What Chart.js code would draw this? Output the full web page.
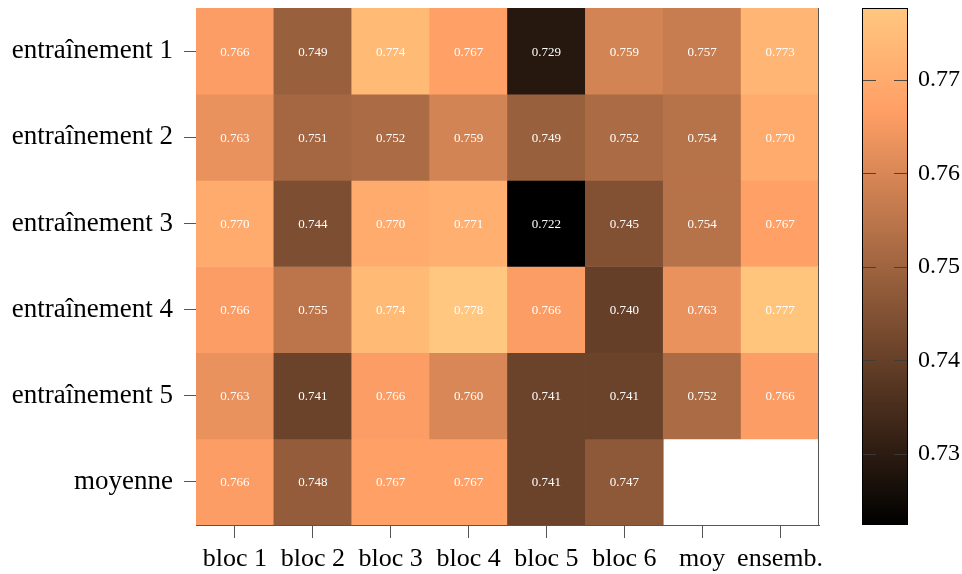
<!DOCTYPE html>
<html>
<head>
<meta charset="utf-8">
<script src="https://cdn.jsdelivr.net/npm/chart.js@4.4.1/dist/chart.umd.min.js"></script>
<style>
  html, body { margin: 0; padding: 0; background: #ffffff; }
  #wrap { position: relative; width: 962px; height: 574px; }
  #main { position: absolute; left: 0; top: 0; }
  #cbar { position: absolute; left: 840px; top: 0; }
</style>
</head>
<body>
<div id="wrap">
  <canvas id="main" width="840" height="574"></canvas>
  <canvas id="cbar" width="122" height="574"></canvas>
</div>
<script>
// ---- data ----
const colLabels = ['bloc 1', 'bloc 2', 'bloc 3', 'bloc 4', 'bloc 5', 'bloc 6', 'moy', 'ensemb.'];
const rowLabels = ['entraînement 1', 'entraînement 2', 'entraînement 3', 'entraînement 4', 'entraînement 5', 'moyenne'];
const row1 = [0.766, 0.749, 0.774, 0.767, 0.729, 0.759, 0.757, 0.773];
const row2 = [0.763, 0.751, 0.752, 0.759, 0.749, 0.752, 0.754, 0.770];
const row3 = [0.770, 0.744, 0.770, 0.771, 0.722, 0.745, 0.754, 0.767];
const row4 = [0.766, 0.755, 0.774, 0.778, 0.766, 0.740, 0.763, 0.777];
const row5 = [0.763, 0.741, 0.766, 0.760, 0.741, 0.741, 0.752, 0.766];
const rowMean = [0.766, 0.748, 0.767, 0.767, 0.741, 0.747, null, null];
const colorbarTicks = [0.73, 0.74, 0.75, 0.76, 0.77];
const vMin = 0.7224;
const vMax = 0.7777;

const rows = [row1, row2, row3, row4, row5, rowMean];

// matplotlib "copper" colormap
function copper(t) {
  t = Math.max(0, Math.min(1, t));
  const r = Math.min(1, 1.25 * t), g = 0.7812 * t, b = 0.4975 * t;
  return 'rgb(' + Math.round(r * 255) + ',' + Math.round(g * 255) + ',' + Math.round(b * 255) + ')';
}
function colorFor(v) { return copper((v - vMin) / (vMax - vMin)); }

const FONT = 'Liberation Serif';
const AXIS_COLOR = '#555555';

const datasets = rows.map((vals, r) => ({
  label: rowLabels[r],
  data: vals.map(v => v === null ? null : [r, r + 1]),
  values: vals,
  backgroundColor: vals.map(v => v === null ? 'rgba(0,0,0,0)' : colorFor(v)),
  borderWidth: 0,
  barPercentage: 1,
  categoryPercentage: 1,
  grouped: false
}));

const cellLabels = {
  id: 'cellLabels',
  afterDatasetsDraw(chart) {
    const ctx = chart.ctx;
    ctx.save();
    ctx.font = '13px "' + FONT + '"';
    ctx.fillStyle = '#ffffff';
    ctx.textAlign = 'center';
    ctx.textBaseline = 'middle';
    chart.data.datasets.forEach((ds, di) => {
      const meta = chart.getDatasetMeta(di);
      meta.data.forEach((el, i) => {
        const v = ds.values[i];
        if (v === null || v === undefined) return;
        const p = el.getProps(['x', 'y', 'base'], true);
        ctx.fillText(v.toFixed(3), p.x, (p.y + p.base) / 2 + 1);
      });
    });
    // right spine
    const a = chart.chartArea;
    ctx.strokeStyle = AXIS_COLOR;
    ctx.lineWidth = 1;
    ctx.beginPath();
    ctx.moveTo(Math.round(a.right) - 0.5, a.top);
    ctx.lineTo(Math.round(a.right) - 0.5, a.bottom);
    ctx.stroke();
    ctx.restore();
  }
};

new Chart(document.getElementById('main'), {
  type: 'bar',
  data: { labels: colLabels, datasets: datasets },
  options: {
    responsive: false,
    animation: false,
    events: [],
    layout: { padding: { top: 8, right: 21, left: 0, bottom: 0 } },
    plugins: { legend: { display: false }, tooltip: { enabled: false } },
    scales: {
      x: {
        type: 'category',
        offset: true,
        grid: { offset: false, drawOnChartArea: false, drawTicks: true, tickLength: 13, color: AXIS_COLOR },
        border: { display: true, color: AXIS_COLOR },
        ticks: { font: { family: FONT, size: 26 }, color: '#000000', padding: 6, maxRotation: 0, autoSkip: false },
        afterFit(scale) { scale.height = 49; scale.paddingLeft = 0; scale.paddingRight = 0; }
      },
      y: {
        type: 'linear',
        min: 0,
        max: rows.length,
        reverse: true,
        afterBuildTicks(scale) { scale.ticks = rowLabels.map((_, i) => ({ value: i + 0.5 })); },
        grid: { drawOnChartArea: false, drawTicks: true, tickLength: 12, color: AXIS_COLOR },
        border: { display: false },
        ticks: {
          font: { family: FONT, size: 27 }, color: '#000000', padding: 11, autoSkip: false,
          callback: (v, i) => rowLabels[i]
        },
        afterFit(scale) { scale.width = 196; scale.paddingTop = 0; scale.paddingBottom = 0; }
      }
    }
  },
  plugins: [cellLabels]
});

// ---- colorbar ----
const colorbarPlugin = {
  id: 'colorbarFill',
  beforeDraw(chart) {
    const a = chart.chartArea;
    const ctx = chart.ctx;
    ctx.save();
    const g = ctx.createLinearGradient(0, a.bottom, 0, a.top);
    for (let k = 0; k <= 20; k++) {
      const t = k / 20;
      g.addColorStop(t, copper(t));
    }
    ctx.fillStyle = g;
    ctx.fillRect(a.left, a.top, a.right - a.left, a.bottom - a.top);
    ctx.restore();
  },
  afterDraw(chart) {
    const a = chart.chartArea;
    const ctx = chart.ctx;
    const ys = chart.scales.y;
    ctx.save();
    ctx.strokeStyle = 'rgba(60,60,60,0.9)';
    ctx.lineWidth = 1;
    colorbarTicks.forEach(t => {
      const y = Math.round(ys.getPixelForValue(t)) + 0.5;
      ctx.beginPath();
      ctx.moveTo(a.left, y); ctx.lineTo(a.left + 14, y);
      ctx.moveTo(a.right - 14, y); ctx.lineTo(a.right, y);
      ctx.stroke();
    });
    ctx.strokeStyle = '#000000';
    ctx.strokeRect(Math.round(a.left) + 0.5, Math.round(a.top) + 0.5,
                   Math.round(a.right - a.left) - 1, Math.round(a.bottom - a.top) - 1);
    ctx.restore();
  }
};

new Chart(document.getElementById('cbar'), {
  type: 'scatter',
  data: { datasets: [{ data: [] }] },
  options: {
    responsive: false,
    animation: false,
    events: [],
    layout: { padding: { top: 8, left: 22, right: 0, bottom: 49 } },
    plugins: { legend: { display: false }, tooltip: { enabled: false } },
    scales: {
      x: { display: false, min: 0, max: 1 },
      y: {
        type: 'linear',
        position: 'right',
        min: vMin,
        max: vMax,
        afterBuildTicks(scale) { scale.ticks = colorbarTicks.map(v => ({ value: v })); },
        grid: { display: false, drawOnChartArea: false, drawTicks: false },
        border: { display: false },
        ticks: {
          font: { family: FONT, size: 24 }, color: '#000000', padding: 10,
          callback: v => v.toFixed(2)
        },
        afterFit(scale) { scale.width = 54; scale.paddingTop = 0; scale.paddingBottom = 0; }
      }
    }
  },
  plugins: [colorbarPlugin]
});
</script>
</body>
</html>
